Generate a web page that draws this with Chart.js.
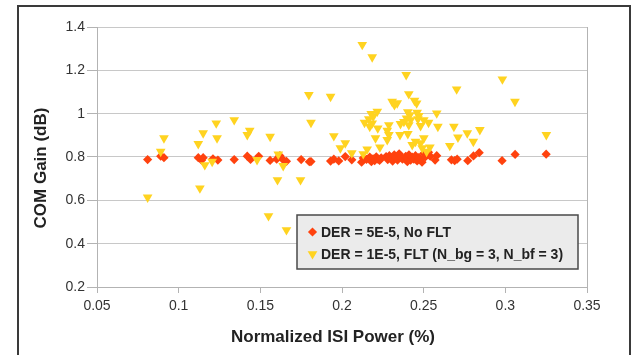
<!DOCTYPE html>
<html>
<head>
<meta charset="utf-8">
<script src="https://cdn.jsdelivr.net/npm/chart.js@4.4.0/dist/chart.umd.min.js"></script>
<style>
  body { margin: 0; background: #fff; }
  canvas { display: block; }
</style>
</head>
<body>
<canvas id="grafico" width="632" height="355"></canvas>
<script>
// Nombres de las series y ejes
const seriesNames = ["DER = 5E-5, No FLT", "DER = 1E-5, FLT (N_bg = 3, N_bf = 3)"];
const xTitle = "Normalized ISI Power (%)";
const yTitle = "COM Gain (dB)";
const xTicks = [0.05, 0.1, 0.15, 0.2, 0.25, 0.3, 0.35];
const yTicks = [0.2, 0.4, 0.6, 0.8, 1, 1.2, 1.4];

// Serie 1: DER = 5E-5, No FLT
const isiNoFlt = [0.081, 0.089, 0.091, 0.112, 0.114, 0.115, 0.121, 0.124, 0.134, 0.142, 0.144, 0.149,
  0.156, 0.160, 0.162, 0.164, 0.166, 0.175, 0.180, 0.181, 0.193, 0.195, 0.198, 0.202, 0.206,
  0.212, 0.213, 0.215, 0.217, 0.218, 0.219, 0.220, 0.221, 0.222, 0.223, 0.224, 0.227, 0.228, 0.229,
  0.230, 0.231, 0.232, 0.233, 0.234, 0.235, 0.236, 0.237, 0.239, 0.240, 0.240, 0.241, 0.242, 0.243,
  0.244, 0.245, 0.246, 0.247, 0.248, 0.249, 0.250, 0.251, 0.253, 0.254, 0.257, 0.258,
  0.267, 0.269, 0.2705, 0.277, 0.2805, 0.284, 0.298, 0.306, 0.325];
const gainNoFlt = [0.788, 0.804, 0.797, 0.797, 0.785, 0.797, 0.792, 0.786, 0.788, 0.804, 0.789, 0.803,
  0.784, 0.790, 0.806, 0.787, 0.780, 0.788, 0.778, 0.779, 0.781, 0.790, 0.782, 0.802, 0.787,
  0.776, 0.795, 0.789, 0.800, 0.778, 0.792, 0.783, 0.801, 0.790, 0.784, 0.796, 0.802, 0.788, 0.806,
  0.791, 0.781, 0.810, 0.797, 0.786, 0.815, 0.800, 0.790, 0.803, 0.778, 0.795, 0.810, 0.785, 0.799,
  0.790, 0.806, 0.782, 0.797, 0.790, 0.776, 0.816, 0.800, 0.822, 0.804, 0.786, 0.806,
  0.787, 0.783, 0.790, 0.783, 0.805, 0.820, 0.783, 0.812, 0.813];

// Serie 2: DER = 1E-5, FLT
const isiFlt = [0.081, 0.089, 0.091, 0.112, 0.113, 0.115, 0.116, 0.1205, 0.123, 0.1235, 0.134, 0.142,
  0.1435, 0.148, 0.155, 0.156, 0.1605, 0.161, 0.164, 0.166, 0.1746, 0.1797, 0.181, 0.193, 0.195,
  0.199, 0.202, 0.206, 0.2124, 0.2185, 0.213, 0.2154, 0.2138, 0.2164, 0.217, 0.2179, 0.2185, 0.2191,
  0.2216, 0.2205, 0.2219, 0.2232, 0.2277, 0.2277, 0.2287, 0.2287, 0.2307, 0.2321, 0.2338, 0.2355,
  0.2358, 0.2379, 0.2393, 0.2395, 0.2403, 0.2403, 0.2409, 0.2409, 0.2415, 0.242, 0.243, 0.2444,
  0.245, 0.2457, 0.246, 0.2465, 0.247, 0.2481, 0.2481, 0.2491, 0.2501, 0.2501, 0.2518, 0.253,
  0.2538, 0.258, 0.2587, 0.266, 0.2685, 0.2702, 0.271, 0.2767, 0.2804, 0.2844, 0.2982, 0.3059, 0.3251];
const gainFlt = [0.614, 0.825, 0.887, 0.861, 0.656, 0.910, 0.763, 0.779, 0.956, 0.887, 0.971, 0.902,
  0.922, 0.787, 0.528, 0.894, 0.694, 0.812, 0.759, 0.463, 0.694, 1.087, 0.959, 1.079, 0.897,
  0.841, 0.864, 0.818, 1.318, 1.261, 0.814, 0.836, 0.959, 0.975, 0.940, 0.999, 0.956, 0.987,
  1.010, 0.887, 0.933, 0.845, 0.922, 0.879, 0.948, 0.902, 1.056, 1.040, 1.049, 0.902,
  0.953, 0.963, 1.179, 0.979, 1.007, 0.907, 1.091, 0.948, 0.994, 0.971, 0.856, 1.060,
  0.871, 1.048, 1.005, 0.975, 0.990, 0.944, 0.864, 0.841, 0.971, 0.887, 0.825, 0.959,
  0.845, 1.002, 0.940, 0.852, 0.940, 1.113, 0.891, 0.910, 0.871, 0.925, 1.159, 1.056, 0.902];

const rojo = "#ff420e";
const amarillo = "#ffd320";
const colorRejilla = "#c8c8c8";
const colorEje = "#b3b3b3";
const fuente = "'Liberation Sans', Arial, sans-serif";

const puntos = (xs, ys) => xs.map((x, i) => ({ x: x, y: ys[i] }));

// Marco, títulos y leyenda dibujados encima del gráfico
const decoracion = {
    id: "decoracion",
    beforeDraw(chart) {
        const ctx = chart.ctx;
        ctx.save();
        ctx.fillStyle = "#fff";
        ctx.fillRect(0, 0, chart.width, chart.height);
        ctx.strokeStyle = "#3a3a3a";
        ctx.lineWidth = 2;
        ctx.strokeRect(18, 6, 612, 380);
        ctx.restore();
    },
    afterDraw(chart) {
        const ctx = chart.ctx;
        ctx.save();
        ctx.fillStyle = "#222";
        ctx.font = "bold 17px " + fuente;
        ctx.textAlign = "center";
        ctx.textBaseline = "middle";
        ctx.fillText(xTitle, 333, 337);
        ctx.translate(41, 168);
        ctx.rotate(-Math.PI / 2);
        ctx.fillText(yTitle, 0, 0);
        ctx.restore();

        // Leyenda
        ctx.save();
        ctx.fillStyle = "#ebebeb";
        ctx.fillRect(297, 215, 281, 54);
        ctx.strokeStyle = "#4a4a4a";
        ctx.lineWidth = 1.5;
        ctx.strokeRect(297, 215, 281, 54);
        ctx.font = "bold 14px " + fuente;
        ctx.textAlign = "left";
        ctx.textBaseline = "middle";
        const filas = [232, 254];
        chart.data.datasets.forEach((ds, i) => {
            ctx.fillStyle = ds.backgroundColor;
            Chart.helpers.drawPoint(ctx, {
                pointStyle: ds.pointStyle, radius: ds.pointRadius,
                rotation: ds.rotation, borderWidth: 0
            }, 312.5, filas[i]);
            ctx.fillStyle = "#222";
            ctx.fillText(seriesNames[i], 321, filas[i] + 1);
        });
        ctx.restore();
    }
};

const grafico = new Chart(document.getElementById("grafico"), {
    type: "scatter",
    data: {
        datasets: [{
            label: seriesNames[0],
            data: puntos(isiNoFlt, gainNoFlt),
            backgroundColor: rojo,
            borderWidth: 0,
            pointStyle: "rectRot",
            pointRadius: 4.6,
            rotation: 0,
            order: 1
        }, {
            label: seriesNames[1],
            data: puntos(isiFlt, gainFlt),
            backgroundColor: amarillo,
            borderWidth: 0,
            pointStyle: "triangle",
            pointRadius: 5.6,
            rotation: 180,
            order: 0
        }]
    },
    options: {
        responsive: false,
        animation: false,
        devicePixelRatio: 1,
        layout: { padding: { left: 17, top: 27, right: 45, bottom: 0 } },
        plugins: { legend: { display: false }, tooltip: { enabled: false } },
        scales: {
            x: {
                type: "linear",
                min: xTicks[0],
                max: xTicks[xTicks.length - 1],
                afterBuildTicks: (s) => { s.ticks = xTicks.map(v => ({ value: v })); },
                afterFit: (s) => { s.height = 68; },
                grid: {
                    color: (c) => c.index === xTicks.length - 1 ? colorEje : "rgba(0,0,0,0)",
                    tickColor: colorEje,
                    tickLength: 6
                },
                border: { color: colorEje, width: 1 },
                ticks: {
                    padding: 5,
                    maxRotation: 0,
                    color: "#333",
                    font: { family: fuente, size: 14 },
                    callback: (v) => String(v)
                }
            },
            y: {
                min: yTicks[0],
                max: yTicks[yTicks.length - 1],
                afterBuildTicks: (s) => { s.ticks = yTicks.map(v => ({ value: v })); },
                afterFit: (s) => { s.width = 80; },
                grid: { color: colorRejilla, tickColor: colorEje, tickLength: 10 },
                border: { color: colorEje, width: 1 },
                ticks: {
                    padding: 2,
                    color: "#333",
                    font: { family: fuente, size: 14 },
                    callback: (v) => String(v)
                }
            }
        }
    },
    plugins: [decoracion]
});
</script>
</body>
</html>
